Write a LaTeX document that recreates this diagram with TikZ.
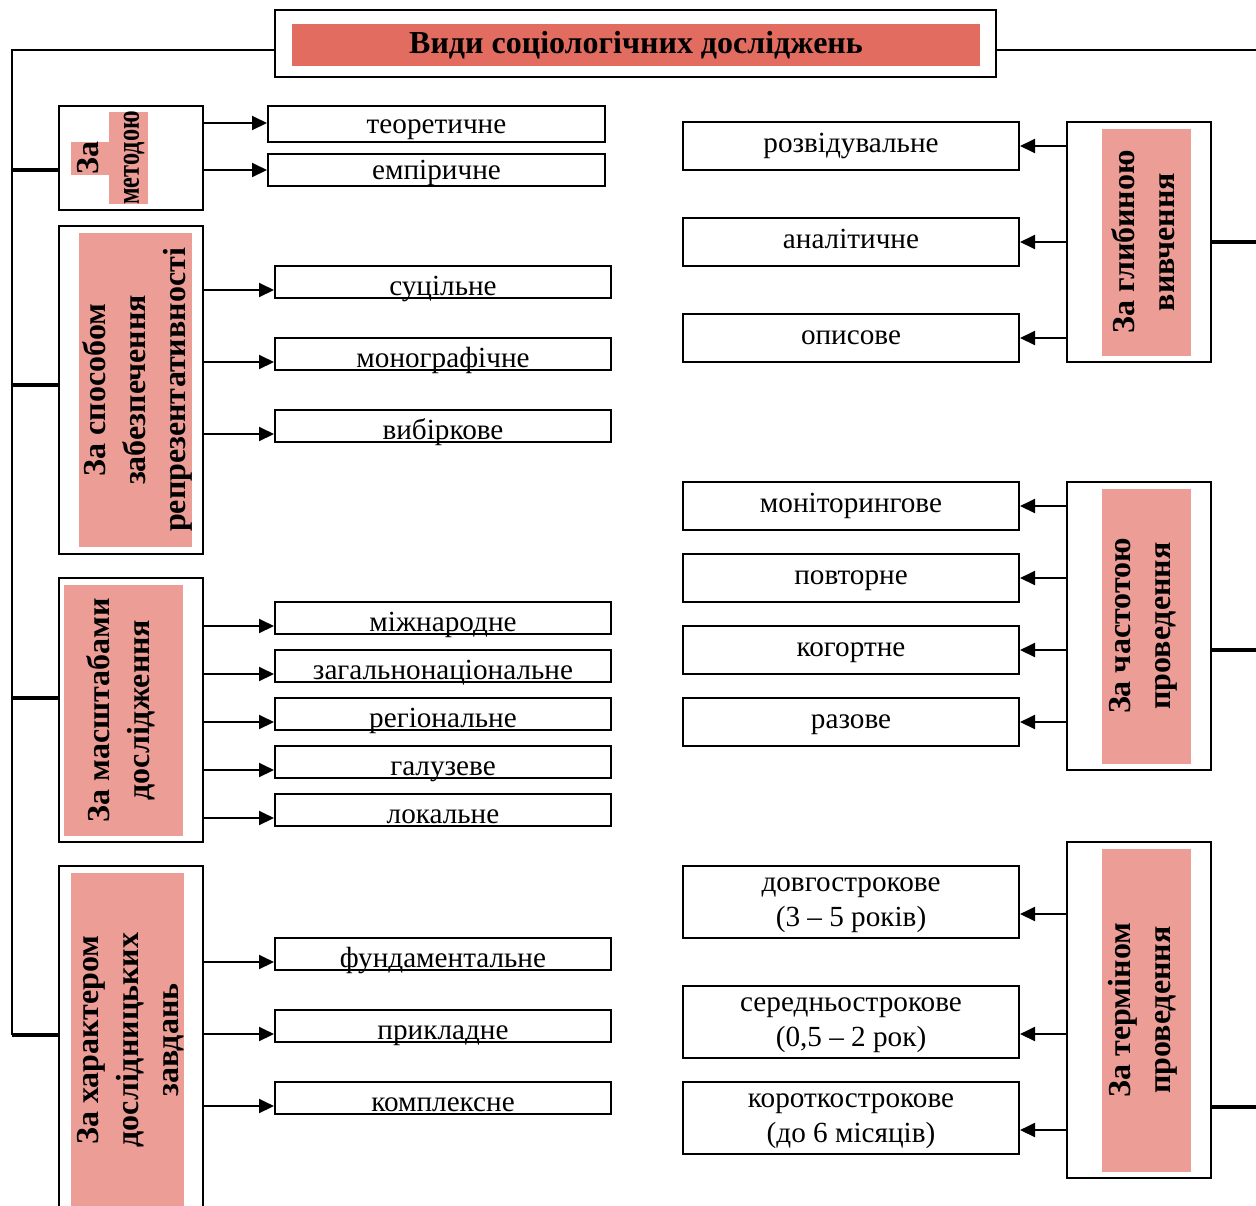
\documentclass[tikz,border=0pt]{standalone}
\usepackage{fontspec}
\usepackage{graphicx}
\setmainfont{Liberation Serif}
\usetikzlibrary{fit,arrows.meta}
\definecolor{titlered}{RGB}{226,108,96}
\definecolor{catpink}{RGB}{236,157,150}
\begin{document}
\begin{tikzpicture}[x=0.5pt,y=-0.5pt,
  box/.style={draw, line width=1pt, inner sep=0pt},
  leaf/.style={box, font=\fontsize{14.6}{17.5}\selectfont},
  leafA/.style={leaf, minimum width=168.5pt, text height=9.75pt, text depth=0pt},
  leafL/.style={leaf, minimum width=168pt, minimum height=16pt, text height=13pt, text depth=0pt},
  leafR/.style={leaf, minimum width=168pt, minimum height=24pt, text height=9.5pt, text depth=3.5pt},
  leafR2/.style={leaf, minimum width=168pt, minimum height=36pt, align=center, text depth=0pt},
  cattext/.style={rotate=90, align=center, inner sep=0pt, font=\fontsize{16}{20}\selectfont\bfseries},
  frame/.style={line width=1pt},
  branch/.style={line width=1.8pt},
  arr/.style={line width=1pt, -{Triangle[length=7.5pt,width=7pt]}},
]
\useasboundingbox (0,0) rectangle (1256,1205);
\clip (0,0) rectangle (1256,1205);

% title
\node[box, fit={(275,10) (996,77)}] (title) {};
\fill[titlered] (292,24) rectangle (980,66);
\node[font=\fontsize{16}{19}\selectfont\bfseries] (titletext) at (636,45) {Види соціологічних досліджень};

% left category boxes
\node[box, fit={(59,106) (203,210)}] (m1) {};
\fill[catpink] (71,142) rectangle (109,175);
\fill[catpink] (109,112) rectangle (148,204);
\node[cattext] (m1t) at (111,158) {За\\\scalebox{0.76}[1]{методою}};

\node[box, fit={(59,226) (203,554)}] (m2) {};
\fill[catpink] (79,233) rectangle (192,547);
\node[cattext] (m2t) at (137,390) {За способом\\забезпечення\\репрезентативності};

\node[box, fit={(59,578) (203,842)}] (m3) {};
\fill[catpink] (64,585) rectangle (183,836);
\node[cattext] (m3t) at (121,710) {За масштабами\\дослідження};

\node[box, fit={(59,866) (203,1225)}] (m4) {};
\fill[catpink] (71,873) rectangle (184,1225);
\node[cattext] (m4t) at (131,1040) {За характером\\дослідницьких\\завдань};

% right category boxes
\node[box, fit={(1067,122) (1211,362)}] (g1) {};
\fill[catpink] (1102,129) rectangle (1191,356);
\node[cattext] (g1t) at (1143,242) {За глибиною\\вивчення};

\node[box, fit={(1067,482) (1211,770)}] (g2) {};
\fill[catpink] (1102,489) rectangle (1191,764);
\node[cattext] (g2t) at (1143,626) {За частотою\\проведення};

\node[box, fit={(1067,842) (1211,1178)}] (g3) {};
\fill[catpink] (1102,849) rectangle (1191,1172);
\node[cattext] (g3t) at (1143,1010) {За терміном\\проведення};

% left leaves
\node[leafA, minimum height=18pt] (t1) at (436.5,124) {теоретичне};
\node[leafA, minimum height=16pt] (t2) at (436.5,170) {емпіричне};

\node[leafL] (s1) at (443,282) {суцільне};
\node[leafL] (s2) at (443,354) {монографічне};
\node[leafL] (s3) at (443,426) {вибіркове};

\node[leafL] (c1) at (443,618) {міжнародне};
\node[leafL] (c2) at (443,666) {загальнонаціональне};
\node[leafL] (c3) at (443,714) {регіональне};
\node[leafL] (c4) at (443,762) {галузеве};
\node[leafL] (c5) at (443,810) {локальне};

\node[leafL] (h1) at (443,954) {фундаментальне};
\node[leafL] (h2) at (443,1026) {прикладне};
\node[leafL] (h3) at (443,1098) {комплексне};

% right leaves
\node[leafR] (r1) at (851,146) {розвідувальне};
\node[leafR] (r2) at (851,242) {аналітичне};
\node[leafR] (r3) at (851,338) {описове};

\node[leafR] (f1) at (851,506) {моніторингове};
\node[leafR] (f2) at (851,578) {повторне};
\node[leafR] (f3) at (851,650) {когортне};
\node[leafR] (f4) at (851,722) {разове};

\node[leafR2] (d1) at (851,902) {довгострокове\\(3 – 5 років)};
\node[leafR2] (d2) at (851,1022) {середньострокове\\(0,5 – 2 рок)};
\node[leafR2] (d3) at (851,1118) {короткострокове\\(до 6 місяців)};

% frame lines
\coordinate (ltop) at (12,50);
\coordinate (lbot) at (12,1035);
\coordinate (rtop) at (1256,50);
\draw[frame] (title.west |- ltop) -- (ltop) -- (lbot);
\draw[frame] (title.east |- rtop) -- (rtop);

% left branches
\draw[branch] (ltop |- 0,170) -- (m1.west |- 0,170);
\draw[branch] (ltop |- 0,385) -- (m2.west |- 0,385);
\draw[branch] (ltop |- 0,698) -- (m3.west |- 0,698);
\draw[branch] (lbot) -- (m4.west |- lbot);

% right branches
\draw[branch] (g1.east |- 0,242) -- (rtop |- 0,242);
\draw[branch] (g2.east |- 0,650) -- (rtop |- 0,650);
\draw[branch] (g3.east |- 0,1107) -- (rtop |- 0,1107);

% left arrows
\draw[arr] (m1.east |- 0,123) -- (t1.west |- 0,123);
\draw[arr] (m1.east |- 0,170) -- (t2.west |- 0,170);
\draw[arr] (m2.east |- 0,290) -- (s1.west |- 0,290);
\draw[arr] (m2.east |- 0,362) -- (s2.west |- 0,362);
\draw[arr] (m2.east |- 0,434) -- (s3.west |- 0,434);
\draw[arr] (m3.east |- 0,626) -- (c1.west |- 0,626);
\draw[arr] (m3.east |- 0,674) -- (c2.west |- 0,674);
\draw[arr] (m3.east |- 0,722) -- (c3.west |- 0,722);
\draw[arr] (m3.east |- 0,770) -- (c4.west |- 0,770);
\draw[arr] (m3.east |- 0,818) -- (c5.west |- 0,818);
\draw[arr] (m4.east |- 0,962) -- (h1.west |- 0,962);
\draw[arr] (m4.east |- 0,1034) -- (h2.west |- 0,1034);
\draw[arr] (m4.east |- 0,1106) -- (h3.west |- 0,1106);

% right arrows
\draw[arr] (g1.west |- 0,146) -- (r1.east |- 0,146);
\draw[arr] (g1.west |- 0,242) -- (r2.east |- 0,242);
\draw[arr] (g1.west |- 0,338) -- (r3.east |- 0,338);
\draw[arr] (g2.west |- 0,506) -- (f1.east |- 0,506);
\draw[arr] (g2.west |- 0,578) -- (f2.east |- 0,578);
\draw[arr] (g2.west |- 0,650) -- (f3.east |- 0,650);
\draw[arr] (g2.west |- 0,722) -- (f4.east |- 0,722);
\draw[arr] (g3.west |- 0,914) -- (d1.east |- 0,914);
\draw[arr] (g3.west |- 0,1034) -- (d2.east |- 0,1034);
\draw[arr] (g3.west |- 0,1130) -- (d3.east |- 0,1130);
\end{tikzpicture}
\end{document}
